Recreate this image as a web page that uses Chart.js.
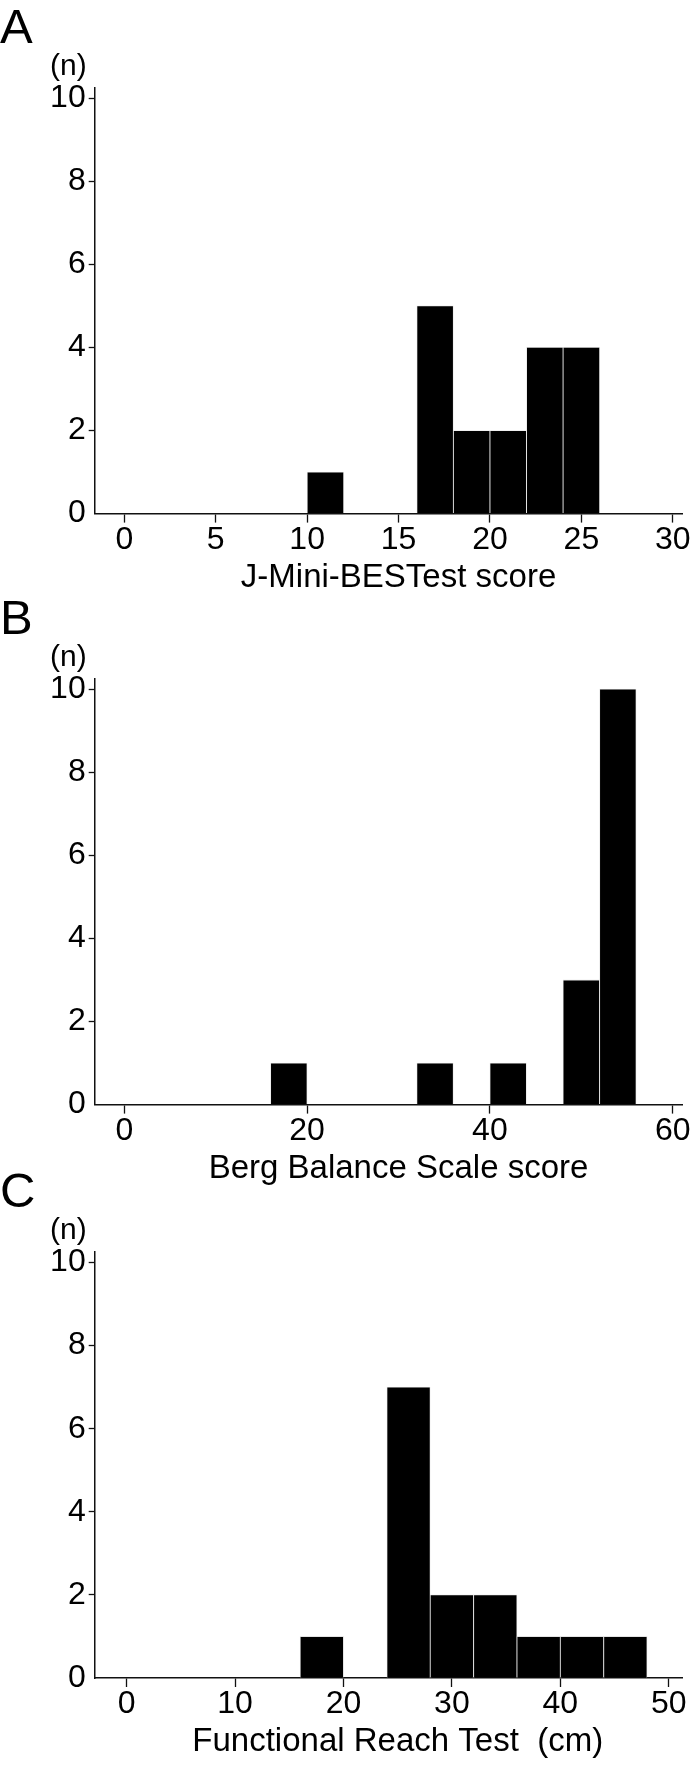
<!DOCTYPE html>
<html><head><meta charset="utf-8">
<script src="https://cdn.jsdelivr.net/npm/chart.js@4.4.1/dist/chart.umd.min.js"></script>
<style>
html,body{margin:0;padding:0;background:#fff;}
body{width:699px;height:1774px;position:relative;overflow:hidden;}
canvas{position:absolute;left:0;}
</style></head><body>
<canvas id="cA" width="699" height="610" style="top:0px"></canvas>
<canvas id="cB" width="699" height="610" style="top:590px"></canvas>
<canvas id="cC" width="699" height="610" style="top:1164px"></canvas>
<script>
// ---- Data ----
// Panel A: J-Mini-BESTest score (bin width 2)
const binStartsA = [10, 16, 18, 20, 22, 24];
const countsA    = [1, 5, 2, 2, 4, 4];
const binWidthA  = 2;
const xTicksA    = [0, 5, 10, 15, 20, 25, 30];
// Panel B: Berg Balance Scale score (bin width 4)
const binStartsB = [16, 32, 40, 48, 52];
const countsB    = [1, 1, 1, 3, 10];
const binWidthB  = 4;
const xTicksB    = [0, 20, 40, 60];
// Panel C: Functional Reach Test (bin width 4)
const binStartsC = [16, 24, 28, 32, 36, 40, 44];
const countsC    = [1, 7, 2, 2, 1, 1, 1];
const binWidthC  = 4;
const xTicksC    = [0, 10, 20, 30, 40, 50];
const yTicks     = [0, 2, 4, 6, 8, 10];
const panelLetters = ['A', 'B', 'C'];
const xTitles = ['J-Mini-BESTest score', 'Berg Balance Scale score', 'Functional Reach Test  (cm)'];
const yUnit = '(n)';

// ---- Layout / style ----
const FONT = '"Liberation Sans", Arial, Helvetica, sans-serif';
const CANVAS_H = 610;
const PLOT_H = 426.3;
const Y_AXIS_W = 94.7;
const RIGHT_PAD = 16.7;
const Y_MAX = 10.26;
const INK = '#111';

const panels = [
  {id: 'cA', top: 87.3, xMin: -1.62, xMax: 30.52, starts: binStartsA, counts: countsA, w: binWidthA, ticks: xTicksA},
  {id: 'cB', top: 88.3, xMin: -3.24, xMax: 61.05, starts: binStartsB, counts: countsB, w: binWidthB, ticks: xTicksB},
  {id: 'cC', top: 87.7, xMin: -2.95, xMax: 51.25, starts: binStartsC, counts: countsC, w: binWidthC, ticks: xTicksC}
];

const textPlugin = {
  id: 'panelText',
  afterDraw(chart, args, opts) {
    const {ctx, chartArea} = chart;
    const xs = chart.scales.x;
    ctx.save();
    ctx.fillStyle = '#000';
    ctx.textBaseline = 'alphabetic';
    ctx.textAlign = 'left';
    ctx.font = '49px ' + FONT;
    ctx.fillText(opts.letter, 0, chartArea.top - 44.5);
    ctx.textAlign = 'center';
    ctx.font = '30px ' + FONT;
    ctx.fillText(opts.unit, chartArea.left - 26.4, chartArea.top - 12.3);
    ctx.font = '33px ' + FONT;
    const t = opts.ticks;
    const mid = (t[0] + t[t.length - 1]) / 2;
    ctx.fillText(opts.title, xs.getPixelForValue(mid), chartArea.bottom + 73);
    ctx.restore();
  }
};

panels.forEach((p, idx) => {
  const data = p.starts.map((s, i) => ({x: s + p.w / 2, y: p.counts[i]}));
  const xAxisH = CANVAS_H - p.top - PLOT_H;
  new Chart(document.getElementById(p.id), {
    type: 'bar',
    data: {
      datasets: [{
        data: data,
        backgroundColor: '#000',
        borderColor: '#e4e4e4',
        borderWidth: 0.8,
        barPercentage: 1,
        categoryPercentage: 1
      }]
    },
    plugins: [textPlugin],
    options: {
      responsive: false,
      animation: false,
      devicePixelRatio: 1,
      layout: {padding: {top: p.top, left: 0, right: RIGHT_PAD, bottom: 0}},
      plugins: {
        legend: {display: false},
        tooltip: {enabled: false},
        panelText: {letter: panelLetters[idx], unit: yUnit, title: xTitles[idx], ticks: p.ticks}
      },
      scales: {
        x: {
          type: 'linear',
          min: p.xMin, max: p.xMax,
          offset: false,
          afterBuildTicks: (s) => { s.ticks = p.ticks.map(v => ({value: v})); },
          afterFit: (s) => { s.height = xAxisH; },
          grid: {offset: false, drawOnChartArea: false, drawTicks: true, tickLength: 9, tickWidth: 1.3, tickColor: INK},
          border: {display: true, color: INK, width: 1.5},
          ticks: {font: {family: FONT, size: 32, lineHeight: 1.1}, color: '#000', padding: 0, maxRotation: 0, autoSkip: false}
        },
        y: {
          type: 'linear',
          min: 0, max: Y_MAX,
          afterBuildTicks: (s) => { s.ticks = yTicks.map(v => ({value: v})); },
          afterFit: (s) => { s.width = Y_AXIS_W; },
          grid: {drawOnChartArea: false, drawTicks: true, tickLength: 6, tickWidth: 1.3,
                 tickColor: (c) => (c.tick && c.tick.value === 0) ? 'rgba(0,0,0,0)' : INK},
          border: {display: true, color: INK, width: 1.5},
          ticks: {font: {family: FONT, size: 32, lineHeight: 1.1}, color: '#000', padding: 3, autoSkip: false}
        }
      }
    }
  });
});
</script>
</body></html>
